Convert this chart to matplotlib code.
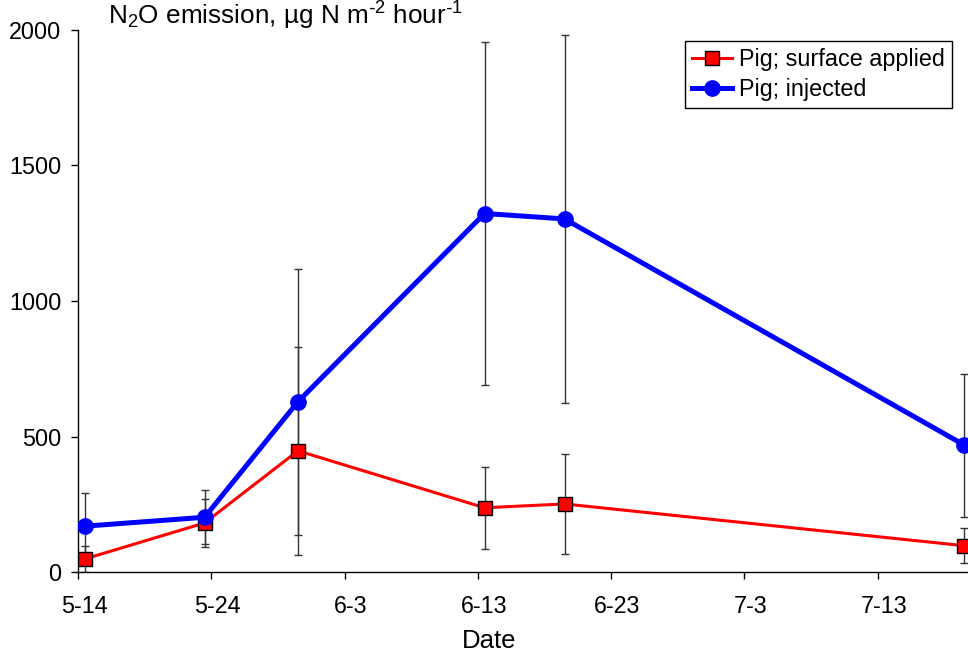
import matplotlib.pyplot as plt
from matplotlib.transforms import ScaledTranslation

plt.rcParams['font.family'] = ['Liberation Sans', 'DejaVu Sans']
plt.rcParams['mathtext.default'] = 'regular'

# sampling days counted from 5-14 (samples sit at midday)
days = [0.5, 9.5, 16.5, 30.5, 36.5, 66.5]
surface = [49, 182, 448, 238, 252, 98]
surface_err = [49, 90, 384, 152, 183, 65]
injected = [170, 203, 629, 1323, 1303, 469]
injected_err = [121, 100, 490, 633, 678, 264]

tick_days = [0, 10, 20, 30, 40, 50, 60]
tick_labels = ['5-14', '5-24', '6-3', '6-13', '6-23', '7-3', '7-13']

fig = plt.figure(figsize=(9.68, 6.55), dpi=100)
ax = fig.add_axes([78 / 968, 1 - 572.3 / 655, 1 - 78 / 968, (572.3 - 29.9) / 655])

# error bars go under the lines and markers
ax.errorbar(days, surface, yerr=surface_err, fmt='none', ecolor='#333333',
            elinewidth=1, capsize=3, capthick=1, zorder=1)
ax.errorbar(days, injected, yerr=injected_err, fmt='none', ecolor='#333333',
            elinewidth=1, capsize=3, capthick=1, zorder=1)

ax.plot(days, surface, color='red', lw=2.2, marker='s', ms=10.5, mfc='red',
        mec='black', mew=1, label='Pig; surface applied', zorder=3)
ax.plot(days, injected, color='#0000ff', lw=3.6, marker='o', ms=11, mfc='#0000ff',
        mec='#0000ff', label='Pig; injected', zorder=4)

ax.set_xlim(0, 66.77)
ax.set_ylim(0, 2000)
ax.set_yticks([0, 500, 1000, 1500, 2000])
ax.set_xticks(tick_days)
ax.set_xticklabels(tick_labels)

for s in ['top', 'right']:
    ax.spines[s].set_visible(False)
for s in ['left', 'bottom']:
    ax.spines[s].set_linewidth(1)
ax.tick_params(direction='out', length=5, width=1, labelsize=16.8)
ax.tick_params(axis='y', pad=7)
ax.tick_params(axis='x', pad=11)
# Excel puts the date labels a bit right of the tick
for lab in ax.get_xticklabels():
    lab.set_transform(lab.get_transform() + ScaledTranslation(0.06, 0, fig.dpi_scale_trans))

fig.text(489 / 968, 1 - 641 / 655, 'Date', ha='center', va='center', fontsize=18.5)
fig.text(108 / 968, 1 - 25 / 655, r'N$_2$O emission, µg N m$^{\text{-}2}$ hour$^{\text{-}1}$',
         ha='left', va='baseline', fontsize=18.8)

leg = ax.legend(loc='upper right', bbox_to_anchor=(952 / 968, 1 - 41 / 655),
                bbox_transform=fig.transFigure, fontsize=16.8, fancybox=False,
                edgecolor='black', framealpha=1, borderaxespad=0, handlelength=1.7,
                handletextpad=0.3, labelspacing=0.3, borderpad=0.3)
leg.get_frame().set_linewidth(1)

fig.savefig('out.png', dpi=100)
